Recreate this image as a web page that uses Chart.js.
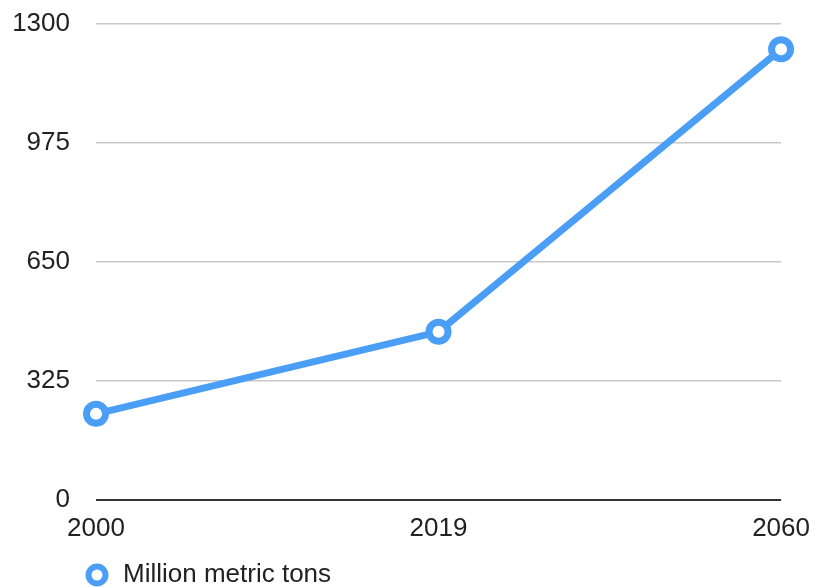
<!DOCTYPE html>
<html>
<head>
<meta charset="utf-8">
<script src="https://cdn.jsdelivr.net/npm/chart.js@4"></script>
<style>
  html, body { margin: 0; padding: 0; background: #fff; }
  #wrap { width: 815px; height: 587px; }
</style>
</head>
<body>
<div id="wrap"><canvas id="tonsline"></canvas></div>
<script>
const ctx = document.getElementById('tonsline');

const years = ['2000', '2019', '2060'];
const tons = [235, 459, 1231];
const yTicks = [0, 325, 650, 975, 1300];

const blue = 'rgb(74, 158, 245)';

Chart.defaults.font.family = '"Liberation Sans", Arial, Helvetica, sans-serif';
Chart.defaults.font.size = 26;
Chart.defaults.color = '#222';

// legend sits under the plot, lined up with the first point
const legendShift = {
    id: 'legendShift',
    afterLayout: function(chart) {
        chart.legend.left = 71;
    }
};

const tonsline = new Chart(ctx, {
    type: 'line',
    data: {
        labels: years,
        datasets: [
            {
                label: 'Million metric tons',
                data: tons,
                borderColor: blue,
                borderWidth: 7,
                pointRadius: 9.5,
                pointBorderWidth: 7,
                pointBackgroundColor: '#fff',
                pointBorderColor: blue,
                tension: 0,
            },
        ]
    },
    plugins: [legendShift],
    options: {
        responsive: true,
        maintainAspectRatio: false,
        animation: false,
        layout: {
            padding: { left: 0, top: 24, right: 24, bottom: -11 }
        },
        plugins: {
            legend: {
                position: 'bottom',
                align: 'start',
                labels: {
                    usePointStyle: true,
                    boxHeight: 12,
                    padding: 13,
                    generateLabels: function(chart) {
                        const items = Chart.defaults.plugins.legend.labels.generateLabels(chart);
                        items.forEach(function(it) { it.lineWidth = 6; });
                        return items;
                    }
                }
            },
            tooltip: { enabled: false }
        },
        scales: {
            x: {
                grid: { display: false },
                border: { display: false },
                ticks: { padding: 5, maxRotation: 0 }
            },
            y: {
                min: 0,
                max: 1300,
                afterFit: function(scale) {
                    scale.width = 96;
                    scale.paddingTop = 0;
                    scale.paddingBottom = 0;
                },
                afterBuildTicks: function(scale) {
                    scale.ticks = yTicks.map(function(v) { return { value: v }; });
                },
                border: { display: false },
                grid: {
                    drawTicks: false,
                    color: function(c) { return c.tick.value === 0 ? '#333' : '#c8c8c8'; },
                    lineWidth: function(c) { return c.tick.value === 0 ? 2 : 1.5; }
                },
                ticks: {
                    padding: 26,
                    callback: function(value) { return String(value); }
                }
            }
        }
    }
});
</script>
</body>
</html>
